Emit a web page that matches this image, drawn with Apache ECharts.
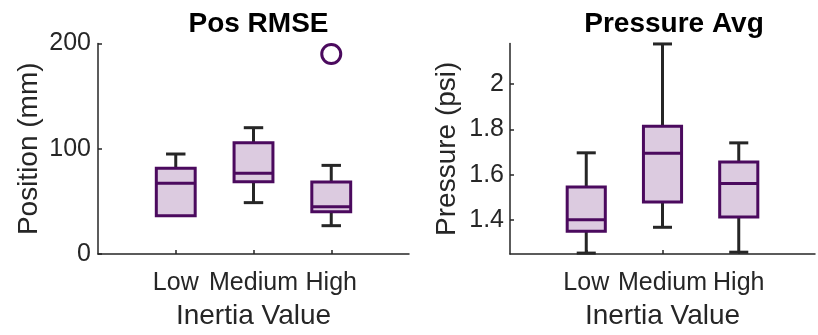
<!DOCTYPE html>
<html>
<head>
<meta charset="utf-8">
<script src="https://cdn.jsdelivr.net/npm/echarts@6/dist/echarts.min.js"></script>
<style>
html,body{margin:0;padding:0;background:#fff;}
#c{width:818px;height:335px;}
</style>
</head>
<body>
<div id="c"></div>
<script>
// Categories (empty slots pad the x range to [0,4] like the reference)
const categories = ['', 'Low', 'Medium', 'High', ''];
const shownTicks = ['Low', 'Medium', 'High'];

// Pos RMSE (mm): [category, lowerWhisker, q1, median, q3, upperWhisker]
const posRmseBoxes = [
  ['Low',    36.4, 36.4, 67.2, 81.4, 95.0],
  ['Medium', 48.8, 68.7, 76.7, 105.8, 120.0],
  ['High',   26.9, 40.2, 45.0, 68.4, 84.2]
];
const posRmseOutliers = [['High', 190]];
const posTicks = [0, 100, 200];

// Pressure Avg (psi)
const pressureBoxes = [
  ['Low',    1.254, 1.350, 1.401, 1.546, 1.697],
  ['Medium', 1.368, 1.480, 1.695, 1.814, 2.178],
  ['High',   1.258, 1.414, 1.562, 1.657, 1.741]
];
const pressureTicks = [1.4, 1.6, 1.8, 2];
const pressureRange = [1.25, 2.18];

const FONT = 'Liberation Sans';
const AX = '#262626';
const EDGE = '#4b0a5e';
const FILL = '#dccbe0';

function renderBox(params, api) {
  const cat = api.value(0);
  const lo = api.value(1), q1 = api.value(2), med = api.value(3), q3 = api.value(4), hi = api.value(5);
  const band = api.size([1, 0])[0];
  const bw = band * 0.5, cw = band * 0.25;
  const pLo = api.coord([cat, lo]), pQ1 = api.coord([cat, q1]), pMed = api.coord([cat, med]);
  const pQ3 = api.coord([cat, q3]), pHi = api.coord([cat, hi]);
  const x = pQ1[0];
  const wStyle = {stroke: AX, lineWidth: 3};
  const children = [];
  if (hi > q3) {
    children.push({type: 'line', shape: {x1: x, y1: pQ3[1], x2: x, y2: pHi[1]}, style: wStyle});
    children.push({type: 'line', shape: {x1: x - cw / 2, y1: pHi[1], x2: x + cw / 2, y2: pHi[1]}, style: wStyle});
  }
  if (lo < q1) {
    children.push({type: 'line', shape: {x1: x, y1: pQ1[1], x2: x, y2: pLo[1]}, style: wStyle});
    children.push({type: 'line', shape: {x1: x - cw / 2, y1: pLo[1], x2: x + cw / 2, y2: pLo[1]}, style: wStyle});
  }
  children.push({type: 'rect', shape: {x: x - bw / 2, y: pQ3[1], width: bw, height: pQ1[1] - pQ3[1]},
    style: {fill: FILL, stroke: EDGE, lineWidth: 3}});
  children.push({type: 'line', shape: {x1: x - bw / 2, y1: pMed[1], x2: x + bw / 2, y2: pMed[1]},
    style: {stroke: EDGE, lineWidth: 3}});
  return {type: 'group', children: children};
}

function xAxis(gridIndex) {
  return {
    type: 'category', gridIndex: gridIndex, data: categories, boundaryGap: false,
    axisLine: {lineStyle: {color: AX, width: 1.5}},
    axisTick: {inside: true, length: 4, lineStyle: {color: AX, width: 1.5},
      interval: (i, v) => shownTicks.indexOf(v) >= 0},
    axisLabel: {interval: 0, color: AX, fontFamily: FONT, fontSize: 25, margin: 17},
    name: 'Inertia Value', nameLocation: 'middle', nameGap: 48,
    nameTextStyle: {color: AX, fontFamily: FONT, fontSize: 28},
    splitLine: {show: false}
  };
}

const chart = echarts.init(document.getElementById('c'), null, {renderer: 'canvas'});
chart.setOption({
  animation: false,
  backgroundColor: '#fff',
  title: [
    {text: 'Pos RMSE', left: 253.5, top: 5, textAlign: 'center',
      textStyle: {fontFamily: FONT, fontWeight: 'bold', fontSize: 28, color: '#000'}},
    {text: 'Pressure Avg', left: 669, top: 5, textAlign: 'center',
      textStyle: {fontFamily: FONT, fontWeight: 'bold', fontSize: 28, color: '#000'}}
  ],
  grid: [
    {left: 98, top: 43.5, width: 311, height: 210.5, containLabel: false},
    {left: 510, top: 43.5, width: 318, height: 210.5, containLabel: false}
  ],
  xAxis: [xAxis(0), xAxis(1)],
  yAxis: [
    {type: 'value', gridIndex: 0, min: posTicks[0], max: posTicks[posTicks.length - 1], interval: 100,
      axisLine: {show: true, lineStyle: {color: AX, width: 1.5}},
      axisTick: {show: true, inside: true, length: 4, lineStyle: {color: AX, width: 1.5}},
      axisLabel: {color: AX, fontFamily: FONT, fontSize: 25, margin: 7},
      splitLine: {show: false},
      name: 'Position (mm)', nameLocation: 'middle', nameGap: 55,
      nameTextStyle: {color: AX, fontFamily: FONT, fontSize: 28}},
    {type: 'value', gridIndex: 1, min: pressureRange[0], max: pressureRange[1],
      axisLine: {show: true, lineStyle: {color: AX, width: 1.5}},
      axisTick: {show: true, inside: true, length: 4, customValues: pressureTicks, lineStyle: {color: AX, width: 1.5}},
      axisLabel: {color: AX, fontFamily: FONT, fontSize: 25, margin: 6, customValues: pressureTicks,
        formatter: v => (Math.abs(v - Math.round(v)) < 1e-9 ? String(Math.round(v)) : v.toFixed(1))},
      splitLine: {show: false},
      name: 'Pressure (psi)', nameLocation: 'middle', nameGap: 49,
      nameTextStyle: {color: AX, fontFamily: FONT, fontSize: 28}}
  ],
  series: [
    {type: 'custom', xAxisIndex: 0, yAxisIndex: 0, renderItem: renderBox, data: posRmseBoxes,
      encode: {x: 0, y: [1, 2, 3, 4, 5]}, z: 2},
    {type: 'scatter', xAxisIndex: 0, yAxisIndex: 0, data: posRmseOutliers, symbol: 'circle', symbolSize: 19,
      itemStyle: {color: 'rgba(0,0,0,0)', borderColor: EDGE, borderWidth: 3, opacity: 1}, z: 3},
    {type: 'custom', xAxisIndex: 1, yAxisIndex: 1, renderItem: renderBox, data: pressureBoxes,
      encode: {x: 0, y: [1, 2, 3, 4, 5]}, z: 2, clip: false}
  ]
});
</script>
</body>
</html>
